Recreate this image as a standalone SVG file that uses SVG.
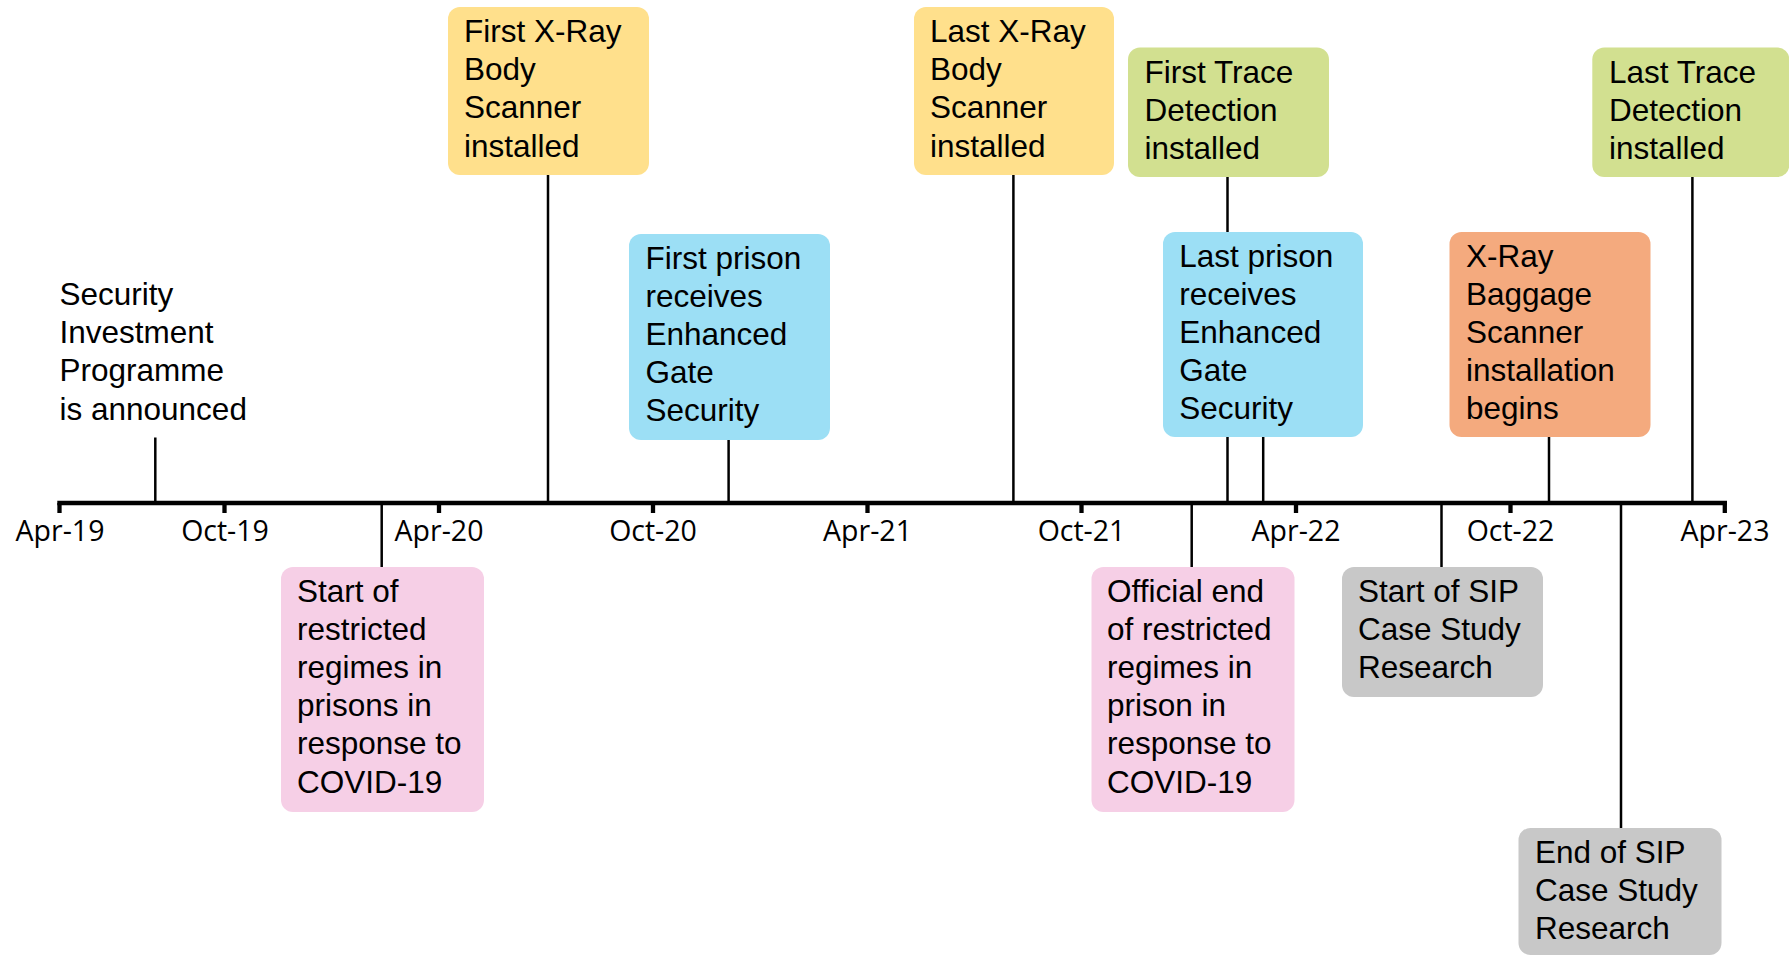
<svg xmlns="http://www.w3.org/2000/svg" width="1789" height="955" viewBox="0 0 1789 955">
<style>
.bx{stroke:none}
.yl{fill:#FFE08C}
.bl{fill:#9CDFF5}
.gr{fill:#D2E090}
.or{fill:#F4AA7E}
.pk{fill:#F6CFE6}
.gy{fill:#C8C8C8}
.t{font-family:"Liberation Sans",Arial,sans-serif;font-size:31.5px;fill:#000}
.lab{font-family:"Open Sans","Liberation Sans",sans-serif;font-size:28.5px;fill:#000;text-anchor:middle}
.c{stroke:#000;stroke-width:2.5;fill:none}
.ax{stroke:#000;stroke-width:4.5;fill:none}
.tk{stroke:#000;stroke-width:4.3;fill:none}
</style>
<rect width="1789" height="955" fill="#fff"/>
<g id="connectors">
<line class="c" x1="155.3" y1="437.5" x2="155.3" y2="503"/>
<line class="c" x1="548" y1="175" x2="548" y2="503"/>
<line class="c" x1="728.6" y1="440" x2="728.6" y2="503"/>
<line class="c" x1="1013.4" y1="175" x2="1013.4" y2="503"/>
<line class="c" x1="1227.5" y1="177" x2="1227.5" y2="503"/>
<line class="c" x1="1263.2" y1="437" x2="1263.2" y2="503"/>
<line class="c" x1="1549" y1="437" x2="1549" y2="503"/>
<line class="c" x1="1692.4" y1="177" x2="1692.4" y2="503"/>
<line class="c" x1="381.7" y1="503" x2="381.7" y2="567"/>
<line class="c" x1="1191.7" y1="503" x2="1191.7" y2="567"/>
<line class="c" x1="1441.5" y1="503" x2="1441.5" y2="567"/>
<line class="c" x1="1621" y1="503" x2="1621" y2="828"/>
</g>
<g id="axis">
<line class="ax" x1="57.3" y1="503" x2="1727" y2="503"/>
<line class="tk" x1="59.5" y1="503" x2="59.5" y2="513"/>
<line class="tk" x1="224.5" y1="503" x2="224.5" y2="513"/>
<line class="tk" x1="439" y1="503" x2="439" y2="513"/>
<line class="tk" x1="653" y1="503" x2="653" y2="513"/>
<line class="tk" x1="867.5" y1="503" x2="867.5" y2="513"/>
<line class="tk" x1="1081.5" y1="503" x2="1081.5" y2="513"/>
<line class="tk" x1="1296" y1="503" x2="1296" y2="513"/>
<line class="tk" x1="1510.5" y1="503" x2="1510.5" y2="513"/>
<line class="tk" x1="1724.8" y1="503" x2="1724.8" y2="513"/>
<text class="lab" x="60" y="541">Apr-19</text>
<text class="lab" x="225" y="541">Oct-19</text>
<text class="lab" x="439" y="541">Apr-20</text>
<text class="lab" x="653" y="541">Oct-20</text>
<text class="lab" x="867.5" y="541">Apr-21</text>
<text class="lab" x="1081.5" y="541">Oct-21</text>
<text class="lab" x="1296" y="541">Apr-22</text>
<text class="lab" x="1510.5" y="541">Oct-22</text>
<text class="lab" x="1725" y="541">Apr-23</text>
</g>
<g id="n-sip-announced">
<text class="t"><tspan x="59.5" y="305">Security</tspan><tspan x="59.5" y="343.2">Investment</tspan><tspan x="59.5" y="381.4">Programme</tspan><tspan x="59.5" y="419.6">is announced</tspan></text>
</g>
<g id="n-first-xray">
<rect class="bx yl" x="448" y="7" width="201" height="168" rx="12"/>
<text class="t"><tspan x="464" y="42">First X-Ray</tspan><tspan x="464" y="80.2">Body</tspan><tspan x="464" y="118.4">Scanner</tspan><tspan x="464" y="156.6">installed</tspan></text>
</g>
<g id="n-first-prison">
<rect class="bx bl" x="629" y="234" width="201" height="206" rx="12"/>
<text class="t"><tspan x="645.5" y="268.6">First prison</tspan><tspan x="645.5" y="306.8">receives</tspan><tspan x="645.5" y="345">Enhanced</tspan><tspan x="645.5" y="383.2">Gate</tspan><tspan x="645.5" y="421.4">Security</tspan></text>
</g>
<g id="n-last-xray">
<rect class="bx yl" x="914" y="7" width="200" height="168" rx="12"/>
<text class="t"><tspan x="930" y="42">Last X-Ray</tspan><tspan x="930" y="80.2">Body</tspan><tspan x="930" y="118.4">Scanner</tspan><tspan x="930" y="156.6">installed</tspan></text>
</g>
<g id="n-first-trace">
<rect class="bx gr" x="1128" y="47.5" width="201" height="129.5" rx="12"/>
<text class="t"><tspan x="1144.5" y="82.9">First Trace</tspan><tspan x="1144.5" y="121.1">Detection</tspan><tspan x="1144.5" y="159.3">installed</tspan></text>
</g>
<g id="n-last-prison">
<rect class="bx bl" x="1163" y="232" width="200" height="205" rx="12"/>
<text class="t"><tspan x="1179.3" y="266.6">Last prison</tspan><tspan x="1179.3" y="304.8">receives</tspan><tspan x="1179.3" y="343">Enhanced</tspan><tspan x="1179.3" y="381.2">Gate</tspan><tspan x="1179.3" y="419.4">Security</tspan></text>
</g>
<g id="n-xray-baggage">
<rect class="bx or" x="1449.5" y="232" width="201" height="205" rx="12"/>
<text class="t"><tspan x="1466" y="266.6">X-Ray</tspan><tspan x="1466" y="304.8">Baggage</tspan><tspan x="1466" y="343">Scanner</tspan><tspan x="1466" y="381.2">installation</tspan><tspan x="1466" y="419.4">begins</tspan></text>
</g>
<g id="n-last-trace">
<rect class="bx gr" x="1592.3" y="47.5" width="197" height="129.5" rx="12"/>
<text class="t"><tspan x="1609" y="82.9">Last Trace</tspan><tspan x="1609" y="121.1">Detection</tspan><tspan x="1609" y="159.3">installed</tspan></text>
</g>
<g id="n-start-restricted">
<rect class="bx pk" x="281" y="567" width="203" height="245" rx="12"/>
<text class="t"><tspan x="297" y="601.5">Start of</tspan><tspan x="297" y="639.7">restricted</tspan><tspan x="297" y="677.9">regimes in</tspan><tspan x="297" y="716.1">prisons in</tspan><tspan x="297" y="754.3">response to</tspan><tspan x="297" y="792.5">COVID-19</tspan></text>
</g>
<g id="n-end-restricted">
<rect class="bx pk" x="1091.5" y="567" width="203" height="245" rx="12"/>
<text class="t"><tspan x="1107" y="601.5">Official end</tspan><tspan x="1107" y="639.7">of restricted</tspan><tspan x="1107" y="677.9">regimes in</tspan><tspan x="1107" y="716.1">prison in</tspan><tspan x="1107" y="754.3">response to</tspan><tspan x="1107" y="792.5">COVID-19</tspan></text>
</g>
<g id="n-start-sip">
<rect class="bx gy" x="1342" y="567" width="201" height="130" rx="12"/>
<text class="t"><tspan x="1358" y="601.5">Start of SIP</tspan><tspan x="1358" y="639.7">Case Study</tspan><tspan x="1358" y="677.9">Research</tspan></text>
</g>
<g id="n-end-sip">
<rect class="bx gy" x="1518.5" y="828" width="203" height="127" rx="12"/>
<text class="t"><tspan x="1535" y="862.5">End of SIP</tspan><tspan x="1535" y="900.7">Case Study</tspan><tspan x="1535" y="938.9">Research</tspan></text>
</g>
</svg>
